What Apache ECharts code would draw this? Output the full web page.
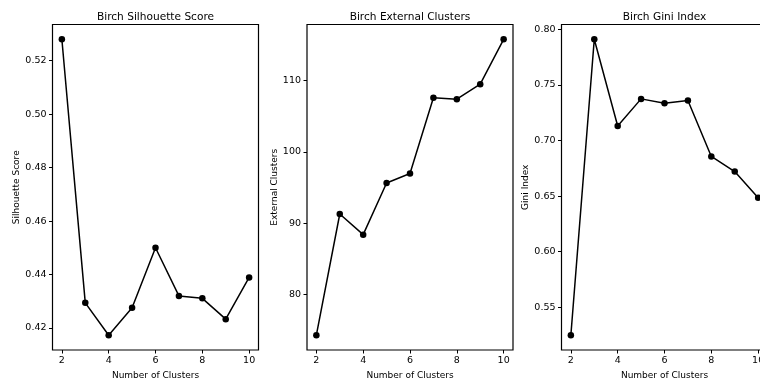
<!DOCTYPE html>
<html>
<head>
<meta charset="utf-8">
<script src="https://cdn.jsdelivr.net/npm/echarts@6/dist/echarts.min.js"></script>
<style>
  html, body { margin: 0; padding: 0; background: #fff; }
  #chart { width: 760px; height: 378px; }
</style>
</head>
<body>
<div id="chart"></div>
<script>
// Birch clustering metrics by number of clusters
const clusters = [2, 3, 4, 5, 6, 7, 8, 9, 10];
const silhouette = [0.528, 0.4294, 0.4173, 0.4276, 0.450, 0.432, 0.4311, 0.4233, 0.4389];
const externalClusters = [74.3, 91.3, 88.4, 95.65, 96.97, 107.6, 107.4, 109.5, 115.8];
const gini = [0.5248, 0.791, 0.713, 0.7374, 0.7335, 0.7359, 0.6856, 0.672, 0.6485];

const xTicks = [2, 4, 6, 8, 10];
const silhouetteTicks = [0.42, 0.44, 0.46, 0.48, 0.50, 0.52];
const externalTicks = [80, 90, 100, 110];
const giniTicks = [0.55, 0.60, 0.65, 0.70, 0.75, 0.80];

const titles = ['Birch Silhouette Score', 'Birch External Clusters', 'Birch Gini Index'];
const yNames = ['Silhouette Score', 'External Clusters', 'Gini Index'];

const FONT = 'DejaVu Sans';
const INK = '#000';

// axis range with 5% padding on each side
function padded(values) {
  const lo = Math.min(...values), hi = Math.max(...values);
  const m = (hi - lo) * 0.05;
  return [lo - m, hi + m];
}

const panels = [
  { data: silhouette, ticks: silhouetteTicks, fmt: v => v.toFixed(2), left: 52.5, nameGap: 30 },
  { data: externalClusters, ticks: externalTicks, fmt: v => String(Math.round(v)), left: 307, nameGap: 28 },
  { data: gini, ticks: giniTicks, fmt: v => v.toFixed(2), left: 561.5, nameGap: 30 }
];

const PW = 206, TOP = 24.5, PH = 325.5;
const xr = padded(clusters);

const option = {
  backgroundColor: '#fff',
  animation: false,
  title: panels.map((p, i) => ({
    text: titles[i],
    left: p.left + PW / 2,
    top: 11.5,
    padding: 0,
    textAlign: 'center',
    textStyle: { fontFamily: FONT, fontSize: 10.6, fontWeight: 'normal', color: INK }
  })),
  grid: panels.map(p => ({
    left: p.left, top: TOP, width: PW, height: PH,
    show: true, borderColor: INK, borderWidth: 1.2, backgroundColor: '#fff',
    containLabel: false, outerBoundsMode: 'none'
  })),
  xAxis: panels.map((p, i) => ({
    type: 'value', gridIndex: i, min: xr[0], max: xr[1],
    name: 'Number of Clusters', nameLocation: 'middle', nameGap: 16,
    nameTextStyle: { fontFamily: FONT, fontSize: 9, color: INK },
    axisLine: { show: false },
    splitLine: { show: false },
    axisTick: { show: true, length: 3.5, customValues: xTicks, lineStyle: { color: INK, width: 1 } },
    axisLabel: { customValues: xTicks, margin: 6, fontFamily: FONT, fontSize: 9.5, color: INK, formatter: v => String(Math.round(v)) }
  })),
  yAxis: panels.map((p, i) => {
    const r = padded(p.data);
    return {
      type: 'value', gridIndex: i, min: r[0], max: r[1],
      name: yNames[i], nameLocation: 'middle', nameGap: p.nameGap, nameRotate: 90,
      nameTextStyle: { fontFamily: FONT, fontSize: 9, color: INK },
      axisLine: { show: false },
      splitLine: { show: false },
      axisTick: { show: true, length: 3.5, customValues: p.ticks, lineStyle: { color: INK, width: 1 } },
      axisLabel: { customValues: p.ticks, margin: 6, fontFamily: FONT, fontSize: 9.5, color: INK, formatter: p.fmt }
    };
  }),
  series: panels.map((p, i) => ({
    type: 'line', xAxisIndex: i, yAxisIndex: i,
    data: clusters.map((c, k) => [c, p.data[k]]),
    symbol: 'circle', symbolSize: 6.5,
    lineStyle: { color: INK, width: 1.5 },
    itemStyle: { color: INK },
    z: 3
  }))
};

const chart = echarts.init(document.getElementById('chart'), null, { renderer: 'canvas' });
chart.setOption(option);
</script>
</body>
</html>
